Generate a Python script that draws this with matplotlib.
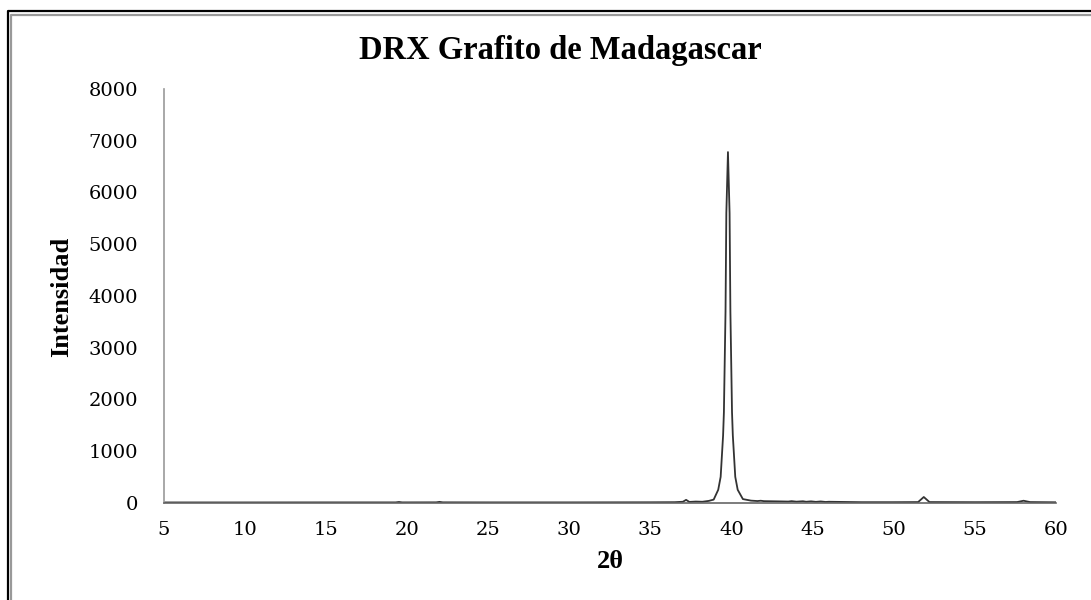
import matplotlib
matplotlib.use("Agg")
import matplotlib.pyplot as plt
from matplotlib.lines import Line2D

# Diffractogram read-out: 2-theta (degrees) and intensity (counts)
two_theta = [5, 10, 15, 19.3, 19.5, 19.7, 21.8, 22.0, 22.2, 25, 30, 35,
             36.5, 37.0, 37.2, 37.4, 37.8, 38.2, 38.6, 38.9, 39.18, 39.33,
             39.48, 39.53, 39.63, 39.68, 39.78, 39.88, 39.93, 40.03, 40.08,
             40.23, 40.38, 40.7, 41.2, 41.6, 41.8, 42.0, 43.0, 43.5, 43.7,
             44.0, 44.4, 44.6, 44.9, 45.2, 45.5, 45.8, 46.0, 48, 50, 51.5,
             51.85, 52.2, 55, 57.6, 58.0, 58.4, 60]
intensity = [5, 5, 6, 6, 14, 6, 7, 16, 7, 6, 6, 8,
             10, 18, 55, 15, 22, 18, 35, 60, 250, 500,
             1300, 1750, 3700, 5600, 6780, 5600, 3700, 1750, 1300,
             500, 250, 70, 40, 32, 38, 30, 25, 22, 30,
             20, 28, 18, 26, 16, 24, 14, 18, 10, 10, 12,
             110, 12, 10, 12, 38, 12, 8]

x_ticks = [5, 10, 15, 20, 25, 30, 35, 40, 45, 50, 55, 60]
y_ticks = [0, 1000, 2000, 3000, 4000, 5000, 6000, 7000, 8000]

title_text = "DRX Grafito de Madagascar"
x_label = "2θ"
y_label = "Intensidad"

W, H = 1091, 600
fig = plt.figure(figsize=(W / 100, H / 100), dpi=100)
fig.patch.set_facecolor("white")

ax = fig.add_axes([163.7 / W, 1 - 502.7 / H, (1056 - 163.7) / W, (502.7 - 89) / H])
ax.plot(two_theta, intensity, color="#333333", lw=1.3, solid_joinstyle="round")

ax.set_xlim(5, 60)
ax.set_ylim(0, 8000)
ax.set_xticks(x_ticks)
ax.set_yticks(y_ticks)
ax.set_xticklabels([str(v) for v in x_ticks])
ax.set_yticklabels([str(v) for v in y_ticks])

for side in ("top", "right"):
    ax.spines[side].set_visible(False)
ax.spines["left"].set_color("#999999")
ax.spines["left"].set_linewidth(1.2)
ax.spines["bottom"].set_color("#666666")
ax.spines["bottom"].set_linewidth(1.2)

tick_font = dict(family="DejaVu Serif", size=14)
ax.tick_params(axis="both", length=0, colors="black")
ax.tick_params(axis="y", pad=18.5)
ax.tick_params(axis="x", pad=13)
for lab in ax.get_xticklabels() + ax.get_yticklabels():
    lab.set_fontfamily(tick_font["family"])
    lab.set_fontsize(tick_font["size"])

label_font = dict(family="Liberation Serif", weight="bold")
fig.text(560 / W, 1 - 50 / H, title_text, ha="center", va="center",
         fontsize=23.5, **label_font)
fig.text(610 / W, 1 - 562 / H, x_label, ha="center", va="center",
         fontsize=19, **label_font)
fig.text(62 / W, 1 - 297 / H, y_label, ha="center", va="center",
         rotation=90, fontsize=19, **label_font)

# Double frame around the chart area (outer black, inner grey)
def frame_line(xs, ys, color, lw):
    fig.add_artist(Line2D([x / W for x in xs], [1 - y / H for y in ys],
                          color=color, lw=lw, solid_capstyle="butt",
                          transform=fig.transFigure))

frame_line([7.5, 7.5, W + 5], [H + 5, 11, 11], "black", 1.6)
frame_line([11, 11, W + 5], [H + 5, 15, 15], "#999999", 1.6)

fig.savefig("out.png", dpi=100, facecolor="white")
